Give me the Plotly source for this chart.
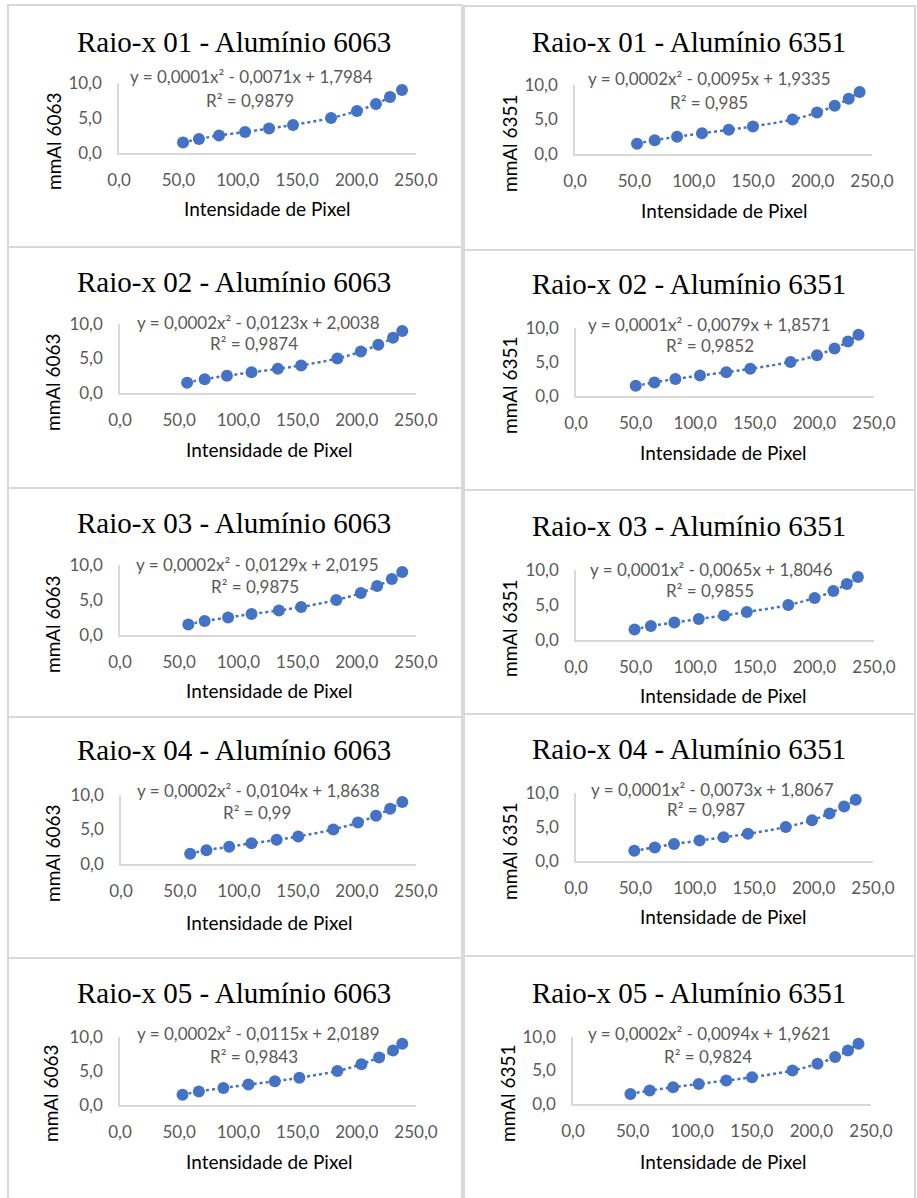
import plotly.graph_objects as go

W, H = 917, 1198

# ---------------- data ----------------
mmAl = [1.5, 2.0, 2.5, 3.0, 3.5, 4.0, 5.0, 6.0, 7.0, 8.0, 9.0]

x01_6063 = [53.9, 67.3, 84.2, 106.1, 126.3, 146.5, 178.5, 200.3, 216.3, 228.1, 238.2]
x01_6351 = [52.2, 67.1, 85.9, 106.9, 129.4, 149.8, 183.2, 203.7, 218.6, 230.4, 239.6]
x02_6063 = [56.7, 71.5, 90.3, 111.1, 133.3, 153.0, 183.6, 203.4, 218.2, 230.6, 238.4]
x02_6351 = [50.1, 65.8, 83.4, 104.0, 126.1, 146.2, 180.0, 202.2, 216.9, 228.2, 237.0]
x03_6063 = [57.7, 71.5, 91.3, 111.1, 134.2, 153.0, 182.7, 203.4, 217.2, 229.6, 238.4]
x03_6351 = [49.1, 62.8, 82.5, 103.0, 124.2, 143.3, 178.1, 200.2, 215.9, 227.2, 236.5]
x04_6063 = [58.6, 72.4, 91.7, 110.6, 131.9, 150.2, 179.9, 200.8, 216.1, 228.1, 238.4]
x04_6351 = [49.1, 66.3, 82.5, 104.0, 124.2, 144.7, 176.6, 198.7, 213.4, 225.7, 235.5]
x05_6063 = [52.8, 66.6, 87.3, 108.5, 130.8, 151.5, 183.6, 203.9, 218.8, 230.6, 238.4]
x05_6351 = [48.2, 64.3, 84.0, 105.5, 128.6, 150.2, 184.1, 205.1, 219.9, 230.7, 239.5]

titles = [
    "Raio-x 01 - Alumínio 6063", "Raio-x 01 - Alumínio 6351",
    "Raio-x 02 - Alumínio 6063", "Raio-x 02 - Alumínio 6351",
    "Raio-x 03 - Alumínio 6063", "Raio-x 03 - Alumínio 6351",
    "Raio-x 04 - Alumínio 6063", "Raio-x 04 - Alumínio 6351",
    "Raio-x 05 - Alumínio 6063", "Raio-x 05 - Alumínio 6351",
]
equations = [
    "y = 0,0001x² - 0,0071x + 1,7984", "y = 0,0002x² - 0,0095x + 1,9335",
    "y = 0,0002x² - 0,0123x + 2,0038", "y = 0,0001x² - 0,0079x + 1,8571",
    "y = 0,0002x² - 0,0129x + 2,0195", "y = 0,0001x² - 0,0065x + 1,8046",
    "y = 0,0002x² - 0,0104x + 1,8638", "y = 0,0001x² - 0,0073x + 1,8067",
    "y = 0,0002x² - 0,0115x + 2,0189", "y = 0,0002x² - 0,0094x + 1,9621",
]
r2_labels = [
    "R² = 0,9879", "R² = 0,985",
    "R² = 0,9874", "R² = 0,9852",
    "R² = 0,9875", "R² = 0,9855",
    "R² = 0,99", "R² = 0,987",
    "R² = 0,9843", "R² = 0,9824",
]
ytitles = ["mmAl 6063", "mmAl 6351"] * 5
xtitle = "Intensidade de Pixel"
x_series = [x01_6063, x01_6351, x02_6063, x02_6351, x03_6063,
            x03_6351, x04_6063, x04_6351, x05_6063, x05_6351]
x_ticks = [0, 50, 100, 150, 200, 250]
y_ticks = [0, 5, 10]

# ---------------- layout geometry (pixels) ----------------
# plot_left, plot_right, plot_top, plot_bottom, title(x,y), eq(x,y), r2(x,y), ytitle(x,y), xtitle(x,y)
geom = [
    (119, 416, 83, 153, (234, 42), (251, 77), (250, 100), (54, 141), (267, 209)),
    (575, 872, 85, 154, (689, 42), (709, 79), (709, 103), (510, 143), (724, 211)),
    (120, 416, 324, 393, (234, 282), (258, 322), (254, 344), (52, 382), (269, 449)),
    (576, 874, 328, 396, (689, 284), (709, 324), (710, 346), (509, 385), (723, 452)),
    (120, 416, 565, 635, (234, 523), (257, 564), (255, 586), (52, 624), (269, 690)),
    (576, 874, 570, 640, (689, 526), (711, 569), (710, 590), (509, 628), (723, 695)),
    (121, 416, 795, 864, (234, 750), (258, 790), (257, 812), (52, 853), (269, 922)),
    (576, 873, 793, 861, (689, 749), (712, 789), (706, 809), (509, 851), (723, 916)),
    (120, 416, 1037, 1105, (234, 993), (258, 1033), (254, 1056), (50, 1093), (269, 1161)),
    (573, 871, 1037, 1104, (689, 993), (709, 1033), (708, 1056), (507, 1093), (723, 1161)),
]
# panel frames: left, right, top, bottom (None = open at the bottom edge of the page)
panels = [
    (8, 462, 5, 247), (464, 915, 6, 250),
    (8, 462, 247, 488), (464, 915, 250, 490),
    (8, 462, 488, 717), (464, 915, 490, 714),
    (8, 462, 717, 958), (464, 915, 714, 956),
    (8, 462, 958, None), (464, 915, 956, None),
]


def fx(p):
    return p / W


def fy(p):
    return 1 - p / H


BLUE = "#4472C4"
SANS = "Lato"
SERIF = "Liberation Serif"
FRAME = dict(color="#D9D9D9", width=2)

fig = go.Figure()
annotations = []
shapes = []
layout_axes = {}

for i in range(10):
    pl, pr, pt, pb, tpos, epos, rpos, ytpos, xtpos = geom[i]
    n = i + 1
    xa = "x" if n == 1 else f"x{n}"
    ya = "y" if n == 1 else f"y{n}"
    fig.add_trace(go.Scatter(
        x=x_series[i], y=mmAl, xaxis=xa, yaxis=ya,
        mode="lines+markers",
        line=dict(color=BLUE, width=2.5, dash="dot", shape="spline"),
        marker=dict(color=BLUE, size=12),
        showlegend=False, hoverinfo="skip", cliponaxis=False,
    ))
    axis_common = dict(
        showgrid=False, zeroline=False, showline=True, automargin=False,
        linecolor="#D9D9D9", linewidth=1.5, ticks="",
        tickfont=dict(family=SANS, size=17, color="#595959"),
        tickformat=".1f", fixedrange=True,
    )
    layout_axes["xaxis" if n == 1 else f"xaxis{n}"] = dict(
        axis_common, domain=[fx(pl), fx(pr)], range=[0, 250],
        tickvals=x_ticks, anchor=ya, ticklabelstandoff=11,
    )
    layout_axes["yaxis" if n == 1 else f"yaxis{n}"] = dict(
        axis_common, domain=[fy(pb), fy(pt)], range=[0, 10],
        tickvals=y_ticks, anchor=xa, ticklabelstandoff=12,
    )
    annotations += [
        dict(text=titles[i], x=fx(tpos[0]), y=fy(tpos[1]),
             font=dict(family=SERIF, size=29, color="#000000")),
        dict(text=equations[i], x=fx(epos[0]), y=fy(epos[1]),
             font=dict(family=SANS, size=17, color="#595959")),
        dict(text=r2_labels[i], x=fx(rpos[0]), y=fy(rpos[1]),
             font=dict(family=SANS, size=17, color="#595959")),
        dict(text=ytitles[i], x=fx(ytpos[0]), y=fy(ytpos[1]), textangle=-90,
             font=dict(family=SANS, size=19, color="#000000")),
        dict(text=xtitle, x=fx(xtpos[0]), y=fy(xtpos[1]),
             font=dict(family=SANS, size=19, color="#000000")),
    ]
    x0, x1, y0, y1 = panels[i]
    if y1 is None:
        path = (f"M {fx(x0)} 0 L {fx(x0)} {fy(y0)} "
                f"L {fx(x1)} {fy(y0)} L {fx(x1)} 0")
        shapes.append(dict(type="path", xref="paper", yref="paper",
                           path=path, line=FRAME, layer="below"))
    else:
        shapes.append(dict(type="rect", xref="paper", yref="paper",
                           x0=fx(x0), x1=fx(x1), y0=fy(y1), y1=fy(y0),
                           line=FRAME, layer="below"))

for a in annotations:
    a.update(xref="paper", yref="paper", xanchor="center", yanchor="middle",
             showarrow=False)

fig.update_layout(
    width=W, height=H,
    margin=dict(l=0, r=0, t=0, b=0, pad=0, autoexpand=False),
    paper_bgcolor="white", plot_bgcolor="white",
    separators=", ",
    annotations=annotations, shapes=shapes,
    **layout_axes,
)

fig.write_html(
    "out.html",
    config={"displayModeBar": False},
    post_script=(
        "document.documentElement.style.overflow='hidden';"
        "document.body.style.cssText='margin:0;padding:0;overflow:hidden;"
        "width:917px;height:1198px;';"
    ),
)
